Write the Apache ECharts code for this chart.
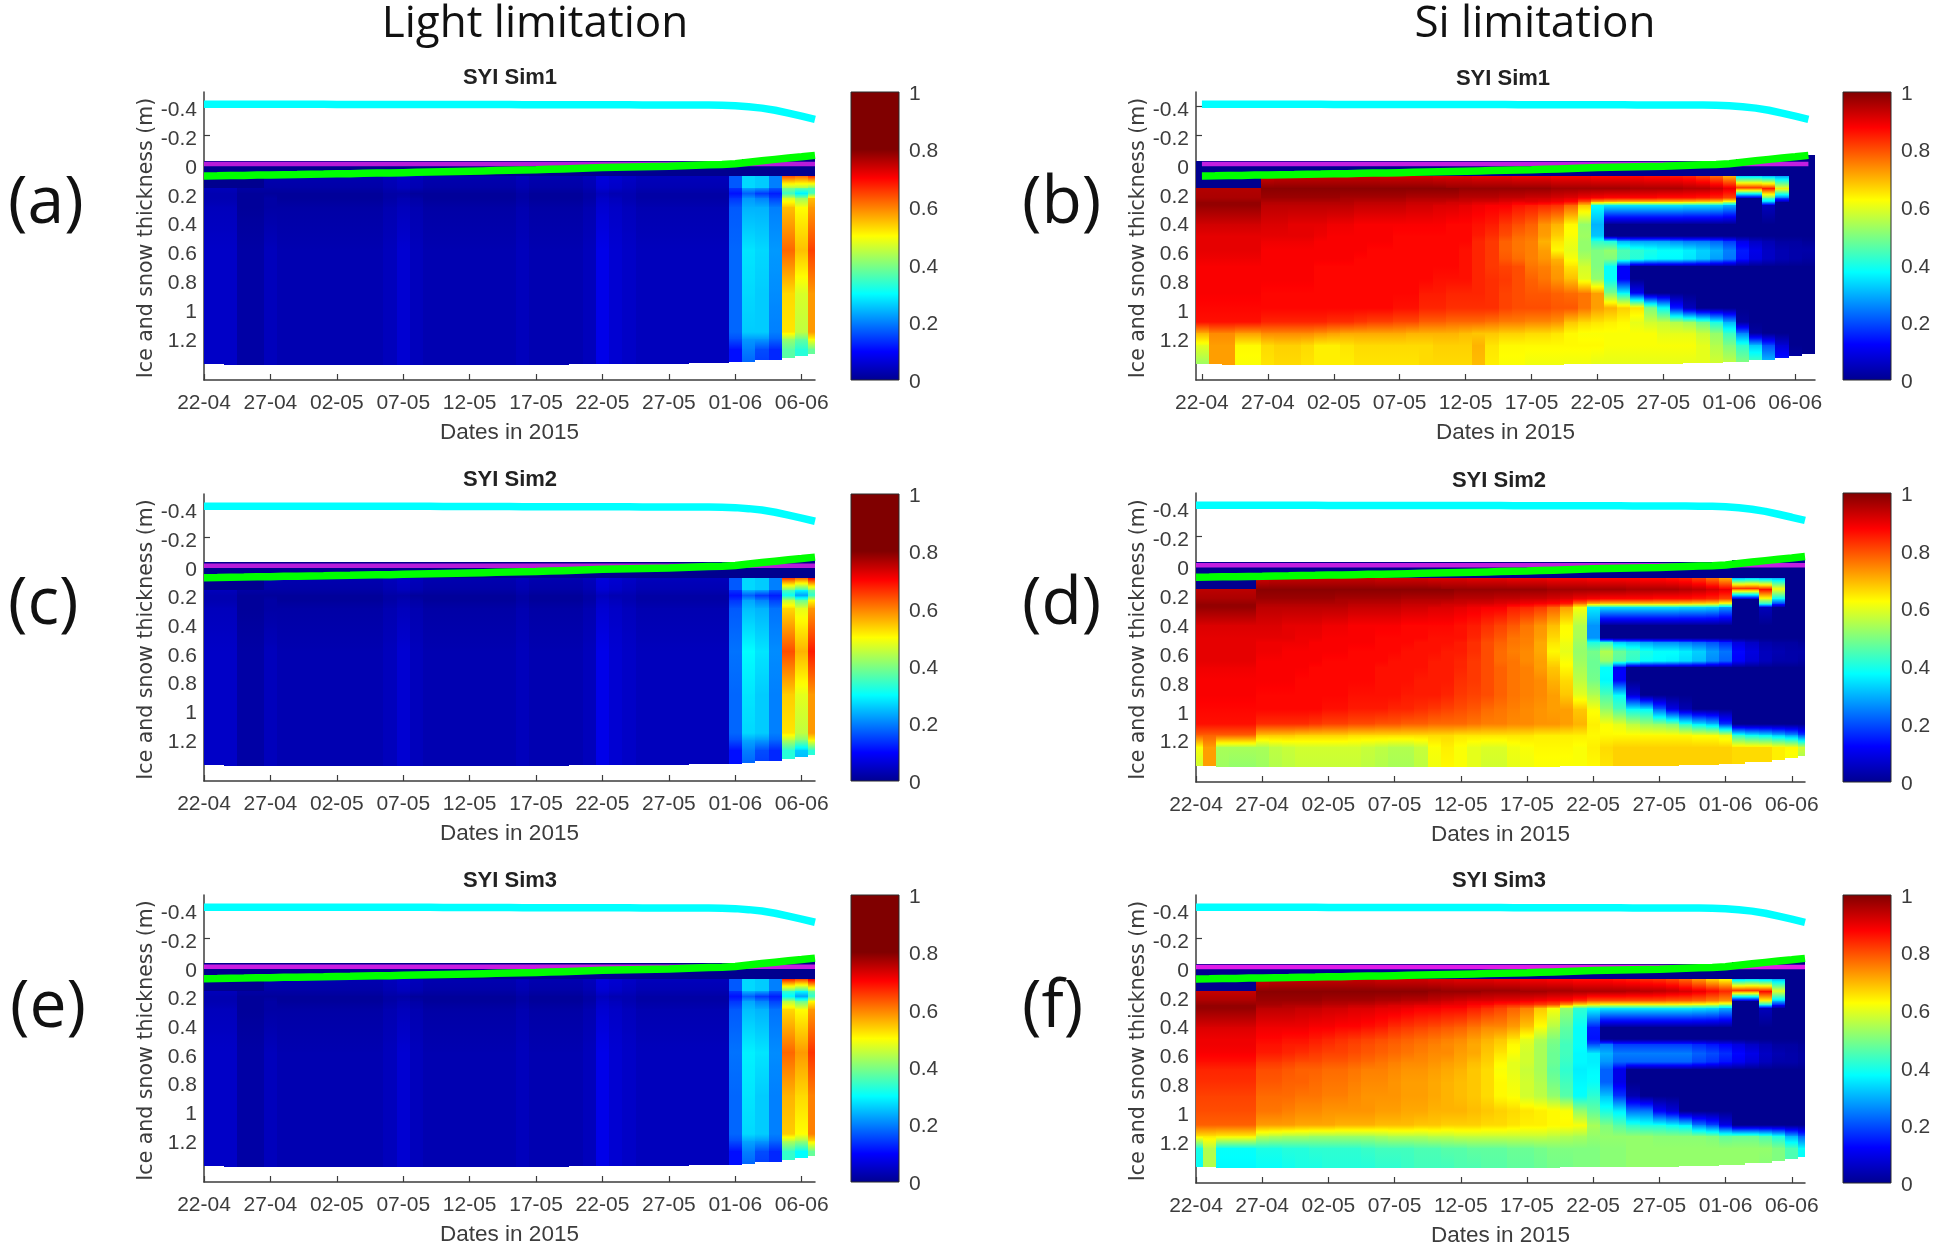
<!DOCTYPE html>
<html><head><meta charset="utf-8">
<style>html,body{margin:0;padding:0;background:#fff}#c{width:1936px;height:1248px;filter:blur(.55px)}</style>
<script src="https://cdn.jsdelivr.net/npm/echarts@6/dist/echarts.min.js"></script>
</head><body><div id="c"></div>
<script>
// ---------- shared axis content ----------
const dateTicks = [0,5,10,15,20,25,30,35,40,45];
const dateLabels = ['22-04','27-04','02-05','07-05','12-05','17-05','22-05','27-05','01-06','06-06'];
const depthTicks = [-0.4,-0.2,0,0.2,0.4,0.6,0.8,1,1.2];
const colorbarTicks = [0,0.2,0.4,0.6,0.8,1];
const days = [0,1,2,3,4,5,6,7,8,9,10,11,12,13,14,15,16,17,18,19,20,21,22,23,24,25,26,27,28,29,30,31,32,33,34,35,36,37,38,39,40,41,42,43,44,45,46];
// ---------- surface lines (m) ----------
const snowTop = [-.415,-.415,-.415,-.415,-.415,-.415,-.415,-.415,-.415,-.415,-.414,-.414,-.414,-.414,-.414,-.414,-.414,-.414,-.413,-.413,-.413,-.413,-.413,-.413,-.412,-.412,-.412,-.412,-.412,-.411,-.411,-.411,-.411,-.41,-.41,-.41,-.41,-.41,-.409,-.408,-.405,-.398,-.388,-.373,-.353,-.332,-.31];
const iceTopLine = [.083,.082,.08,.079,.077,.076,.074,.073,.071,.07,.068,.067,.065,.063,.062,.06,.058,.056,.054,.052,.05,.048,.046,.044,.042,.04,.037,.034,.031,.028,.025,.023,.021,.019,.017,.015,.012,.009,.006,.003,-.002,-.012,-.022,-.032,-.042,-.05,-.06];
const seaLevel = [0,0,0,0,0,0,0,0,0,0,0,0,0,0,0,0,0,0,0,0,0,0,0,0,0,0,0,0,0,0,0,0,0,0,0,0,0,0,0,0,0,0,0,0,0,0,0];
const fieldTop = [-.02,-.02,-.02,-.02,-.02,-.02,-.02,-.02,-.02,-.02,-.02,-.02,-.02,-.02,-.02,-.02,-.02,-.02,-.02,-.02,-.02,-.02,-.02,-.02,-.02,-.02,-.02,-.02,-.02,-.02,-.02,-.02,-.02,-.02,-.02,-.02,-.02,-.02,-.02,-.02,-.02,-.03,-.035,-.04,-.05,-.055,-.06];
const fieldBottom = [1.385,1.385,1.39,1.395,1.395,1.39,1.39,1.39,1.39,1.39,1.39,1.39,1.39,1.39,1.39,1.39,1.395,1.395,1.395,1.395,1.39,1.39,1.39,1.39,1.39,1.39,1.39,1.39,1.385,1.385,1.385,1.385,1.385,1.385,1.385,1.385,1.385,1.38,1.38,1.38,1.375,1.37,1.36,1.355,1.345,1.33,1.315];
// ---------- Si limitation, percent, rows by depth (m) ----------
const siKnots = [.089,.09,.17,.171,.24,.27,.29,.42,.505,.535,.60,.665,.71,.80,.90,1.0,1.10,1.18,1.26,1.37];
const surfaceRow = [0,0,0,0,0, 0,0,0,0,0, 0,0,0,0,0, 0,0,0,0,0, 0,0,0,0,0, 0,0,0,0,0, 0,0,0,0,0, 0,0,0,0,0, 0,0,0,0,0, 0,0];
const siSim1 = [
surfaceRow,
[0,0,0,0,0, 92,93,93,93,93, 93,93,93,93,92, 92,92,92,91,91, 91,90,90,90,89, 89,89,88,88,88, 87,87,87,87,86, 86,85,84,81,77, 70,33,33,30,28, 0,0],
[0,0,0,0,0, 99,99,99,99,99, 99,99,99,99,99, 99,99,99,99,98, 98,98,98,98,98, 98,98,97,97,97, 97,97,97,96,96, 96,96,95,95,93, 90,87,87,86,62, 0,0],
[95,95,95,95,95, 99,99,99,99,99, 99,99,99,99,99, 99,99,99,99,99, 98,98,98,98,98, 98,98,97,97,97, 97,97,97,96,96, 96,96,95,95,93, 90,80,80,87,65, 0,0],
[96,96,96,96,96, 97,97,97,97,97, 97,96,96,96,96, 96,95,95,95,95, 94,94,94,93,93, 92,92,91,90,88, 87,86,86,86,86, 85,85,85,84,83, 80,0,0,45,20, 0,0],
[98,98,98,98,98, 95,95,95,95,95, 95,95,94,94,94, 94,93,93,93,92, 92,91,91,90,89, 90,89,88,86,78, 68,66,65,65,65, 65,65,64,63,62, 55,0,0,30,0, 0,0],
[98,98,98,98,98, 94,94,94,94,94, 94,94,93,93,93, 93,92,92,91,91, 90,89,88,88,86, 85,84,83,78,68, 38,36,36,36,36, 36,36,35,35,34, 30,0,0,5,0, 0,0],
[92,92,92,92,92, 91,91,90,90,90, 89,89,88,88,88, 88,88,88,88,87, 87,86,85,82,80, 78,73,70,63,52, 30,0,0,0,0, 0,0,0,0,0, 0,0,0,0,0, 0,0],
[90,90,90,90,90, 90,90,90,90,89, 88,88,88,88,88, 87,87,87,87,87, 87,85,83,80,77, 76,72,67,62,53, 32,0,0,0,0, 0,0,0,0,0, 0,0,0,0,0, 0,0],
[90,90,90,90,90, 89,89,89,89,88, 88,88,88,88,88, 87,87,87,87,87, 87,84,82,78,76, 75,70,65,61,52, 42,40,30,28,28, 28,26,24,24,22, 18,10,6,4,2, 2,1],
[90,90,90,90,90, 88,88,88,88,88, 88,88,88,87,87, 87,87,87,87,87, 86,84,82,78,76, 75,72,63,60,52, 50,52,45,42,40, 38,38,36,33,30, 25,15,10,6,4, 3,3],
[89,89,89,89,89, 88,88,88,88,88, 88,88,87,87,87, 87,87,87,87,87, 86,84,82,79,77, 75,73,70,62,55, 50,50,44,41,38, 37,37,35,32,28, 24,14,9,6,4, 3,2],
[88,88,88,88,88, 88,88,88,88,87, 87,87,87,87,87, 87,87,87,87,87, 86,84,82,81,80, 76,75,72,65,58, 50,38,12,0,0, 0,0,0,0,0, 0,0,0,0,0, 0,0],
[88,88,88,88,88, 88,88,88,88,87, 87,87,87,87,87, 87,87,87,86,86, 86,84,83,82,80, 78,76,73,69,60, 52,38,12,0,0, 0,0,0,0,0, 0,0,0,0,0, 0,0],
[88,88,88,88,88, 87,87,87,87,87, 87,87,87,87,87, 87,87,85,85,84, 84,84,83,81,80, 79,79,78,77,76, 72,50,38,12,0, 0,0,0,0,0, 0,0,0,0,0, 0,0],
[87,87,87,87,87, 87,87,87,87,87, 87,87,87,87,87, 86,86,84,84,83, 83,83,83,81,80, 80,80,79,79,76, 72,70,67,65,50, 38,15,5,0,0, 0,0,0,0,0, 0,0],
[86,86,86,86,86, 84,84,84,84,84, 83,83,82,81,81, 80,80,78,78,77, 77,77,76,75,75, 74,74,73,68,66, 65,64,63,60,58, 57,55,53,48,40, 30,2,0,0,0, 0,0],
[70,74,74,72,72, 74,74,74,74,73, 72,71,71,71,71, 71,70,70,70,70, 69,68,68,67,67, 66,66,65,63,62, 62,62,62,62,62, 60,60,60,57,52, 43,25,2,0,0, 0,0],
[60,72,72,63,63, 66,67,67,66,64, 64,65,66,66,66, 66,66,66,67,67, 67,70,65,63,63, 63,63,63,63,63, 63,62,62,62,62, 62,62,62,60,55, 50,42,32,20,8, 0,0],
[53,72,72,62,62, 65,66,66,65,64, 64,64,65,65,65, 65,65,66,66,66, 66,69,64,62,62, 61,61,61,61,61, 60,60,60,60,60, 60,60,60,60,58, 56,50,43,30,14, 2,0]
];
const siSim2 = [
surfaceRow,
[0,0,0,0,0, 92,93,93,93,93, 93,93,93,93,92, 92,92,92,91,91, 91,90,90,90,89, 89,89,88,88,88, 87,87,87,87,86, 86,85,84,81,76, 70,30,32,30,30, 0,0],
[0,0,0,0,0, 99,99,99,99,99, 99,99,99,99,99, 99,99,99,99,98, 98,98,98,98,98, 98,98,97,97,97, 97,97,97,96,96, 96,96,95,94,92, 89,90,90,88,65, 0,0],
[94,94,94,94,94, 99,99,99,99,99, 99,99,99,99,99, 99,99,99,99,99, 98,98,98,98,98, 98,98,97,97,97, 97,97,97,96,96, 96,96,95,94,92, 90,78,78,88,62, 0,0],
[96,96,96,96,96, 97,97,97,97,97, 97,96,96,96,96, 96,95,95,95,95, 94,94,94,93,93, 92,92,91,90,88, 87,86,86,86,86, 85,85,85,84,83, 80,0,0,58,35, 0,0],
[98,98,98,98,98, 95,95,95,95,95, 95,95,94,94,94, 94,93,93,93,92, 92,91,91,90,89, 88,87,86,84,74, 66,64,64,64,64, 64,64,63,62,61, 55,0,0,38,15, 0,0],
[98,98,98,98,98, 94,94,94,94,94, 94,94,93,93,93, 93,92,92,91,91, 90,89,88,88,85, 84,82,78,72,62, 36,35,35,35,35, 35,35,34,34,33, 28,0,0,5,0, 0,0],
[91,91,91,91,91, 91,91,90,90,90, 89,89,88,88,88, 88,87,87,87,87, 86,85,83,81,79, 76,73,69,63,55, 27,0,0,0,0, 0,0,0,0,0, 0,0,0,0,0, 0,0],
[90,90,90,90,90, 90,90,90,89,89, 88,88,88,88,87, 87,87,87,86,86, 86,84,81,79,76, 75,72,66,62,54, 27,0,0,0,0, 0,0,0,0,0, 0,0,0,0,0, 0,0],
[90,90,90,90,90, 89,89,89,89,88, 88,88,88,88,87, 87,87,86,86,86, 85,83,80,78,76, 75,71,65,61,53, 40,42,32,30,28, 26,26,24,22,20, 16,9,6,3,2, 2,1],
[90,90,90,90,90, 89,89,88,88,88, 88,88,87,87,87, 87,86,86,86,85, 85,83,80,77,75, 74,71,63,60,52, 49,55,48,44,40, 38,38,36,33,28, 24,13,9,5,4, 3,3],
[90,90,90,90,90, 88,88,88,88,88, 87,87,87,87,87, 86,86,86,85,85, 84,82,80,77,76, 74,72,66,62,53, 48,52,46,42,38, 37,36,34,31,26, 22,12,8,5,3, 3,2],
[89,89,89,89,89, 88,88,88,88,87, 87,87,87,87,86, 86,86,86,85,85, 84,82,80,78,76, 75,72,68,63,54, 48,38,12,0,0, 0,0,0,0,0, 0,0,0,0,0, 0,0],
[88,88,88,88,88, 88,88,88,87,87, 87,87,87,87,86, 86,86,85,85,85, 83,82,80,78,76, 75,74,70,66,56, 49,37,12,0,0, 0,0,0,0,0, 0,0,0,0,0, 0,0],
[88,88,88,88,88, 87,87,87,87,87, 87,87,86,86,86, 86,85,85,85,84, 82,81,80,78,76, 75,74,72,68,60, 55,45,38,8,0, 0,0,0,0,0, 0,0,0,0,0, 0,0],
[87,87,87,87,87, 87,87,87,87,87, 86,86,85,85,85, 84,84,83,82,81, 80,79,77,76,75, 74,73,72,72,68, 62,52,45,38,37, 22,10,4,0,0, 0,0,0,0,0, 0,0],
[86,86,86,86,86, 83,83,83,83,82, 81,81,80,80,79, 79,78,78,77,77, 77,76,75,75,74, 74,73,73,72,70, 64,62,60,56,53, 52,50,42,36,32, 18,0,0,0,0, 0,0],
[78,78,78,78,78, 68,68,68,67,67, 67,67,66,66,66, 66,66,66,66,66, 65,65,65,65,65, 65,64,64,64,64, 63,63,63,63,63, 63,63,63,62,62, 60,42,38,36,32, 28,20],
[62,72,54,54,54, 54,56,57,58,58, 58,58,58,57,56, 55,55,57,62,64, 62,60,59,59,61, 62,63,63,63,62, 64,66,67,67,67, 67,67,67,67,67, 67,66,66,66,64, 63,58],
[58,72,53,52,52, 53,55,56,57,57, 57,57,57,56,55, 54,54,56,61,63, 62,60,58,58,60, 61,62,62,62,62, 63,65,67,67,67, 67,67,67,67,67, 67,66,66,66,64, 62,55]
];
const siSim3 = [
surfaceRow,
[0,0,0,0,0, 92,93,93,93,93, 93,93,93,93,92, 92,92,92,91,91, 90,90,90,89,89, 88,88,87,87,86, 86,86,85,84,83, 82,80,77,72,66, 62,32,34,32,30, 0,0],
[0,0,0,0,0, 99,99,99,99,99, 99,99,99,99,99, 99,99,99,99,98, 98,98,98,98,98, 97,97,97,97,96, 96,96,96,96,95, 95,94,92,90,88, 85,88,88,88,62, 0,0],
[93,93,93,93,93, 99,99,99,99,99, 99,99,99,99,99, 99,99,99,98,98, 98,98,97,97,97, 97,97,96,96,96, 96,96,96,95,95, 94,93,92,90,87, 84,78,78,88,60, 0,0],
[96,96,96,96,96, 97,97,97,97,97, 96,96,96,96,95, 95,94,94,93,92, 91,90,90,89,89, 88,87,86,85,82, 78,78,78,78,78, 78,77,77,76,74, 72,0,0,60,30, 0,0],
[98,98,98,98,98, 96,96,95,95,95, 94,94,93,93,92, 91,91,90,90,89, 89,87,86,84,83, 82,80,78,70,62, 60,58,58,58,58, 58,58,57,56,55, 50,0,0,35,12, 0,0],
[98,98,98,98,98, 94,94,94,93,93, 92,92,91,91,90, 90,89,88,88,87, 87,85,83,81,78, 75,68,62,52,42, 38,36,36,36,36, 36,36,36,35,34, 30,0,0,5,0, 0,0],
[91,91,91,91,91, 89,89,89,89,88, 88,87,87,86,85, 83,82,81,80,79, 78,76,74,74,72, 68,62,55,47,38, 15,0,0,0,0, 0,0,0,0,0, 0,0,0,0,0, 0,0],
[89,89,89,89,89, 87,87,86,86,85, 84,83,82,81,80, 79,78,77,76,75, 74,72,70,68,65, 60,55,50,45,38, 14,0,0,0,0, 0,0,0,0,0, 0,0,0,0,0, 0,0],
[89,89,89,89,89, 86,86,85,85,84, 83,82,81,80,79, 78,77,76,75,74, 73,71,69,67,63, 59,54,49,44,38, 20,24,18,18,18, 18,18,18,16,14, 12,9,6,4,2, 2,1],
[88,88,88,88,88, 85,85,84,83,82, 81,81,80,79,78, 77,76,75,74,74, 72,71,68,65,62, 58,54,48,44,37, 36,30,25,25,25, 25,25,25,22,20, 17,13,10,6,4, 3,2],
[86,86,86,86,86, 82,82,81,80,80, 79,79,78,77,76, 75,74,74,73,72, 71,69,67,63,60, 58,54,48,43,37, 36,27,22,22,22, 22,22,22,19,17, 14,11,8,5,3, 3,2],
[84,84,84,84,84, 80,80,79,78,78, 77,77,76,75,75, 74,73,73,72,71, 70,68,66,62,60, 57,54,47,42,36, 37,22,10,0,0, 0,0,0,0,0, 0,0,0,0,0, 0,0],
[83,83,83,83,83, 79,79,78,78,77, 76,76,75,74,74, 73,72,72,71,70, 69,68,66,63,61, 58,55,49,44,37, 38,22,10,0,0, 0,0,0,0,0, 0,0,0,0,0, 0,0],
[81,81,81,81,81, 77,77,77,76,76, 75,75,74,73,73, 73,72,72,71,70, 69,68,66,63,62, 58,56,52,46,38, 42,32,18,4,0, 0,0,0,0,0, 0,0,0,0,0, 0,0],
[80,80,80,80,80, 76,76,75,74,74, 73,73,73,73,72, 72,71,71,70,70, 70,69,68,67,66, 65,64,63,62,52, 47,40,36,24,24, 12,8,0,0,0, 0,0,0,0,0, 0,0],
[78,78,78,78,78, 72,72,72,71,71, 71,70,70,70,69, 69,69,68,68,67, 67,67,66,66,65, 64,64,63,63,62, 54,50,46,42,40, 40,38,36,25,20, 10,0,0,0,0, 0,0],
[65,65,64,64,64, 56,55,54,54,53, 53,53,53,53,54, 55,55,55,56,56, 57,57,57,57,57, 57,57,56,55,54, 52,52,52,52,52, 51,51,51,51,50, 47,48,48,45,40, 30,22],
[40,55,38,38,38, 40,40,41,41,42, 42,42,42,43,44, 44,44,45,45,46, 46,47,47,47,48, 48,49,50,50,50, 50,51,51,52,52, 52,52,52,52,52, 52,52,52,52,50, 45,38],
[38,55,37,37,37, 38,38,39,40,40, 41,41,41,41,42, 42,43,44,44,44, 45,45,46,46,47, 47,48,49,49,50, 50,51,51,52,52, 52,52,52,52,52, 52,52,52,51,50, 45,38]
];
// ---------- Light limitation, percent, rows by depth (m) ----------
const lightKnots = [.089,.09,.17,.171,.205,.24,.30,.60,.90,1.17,1.22,1.29,1.37];
const lightDeep = [5,5,5,2,2, 4,3,3,3,3, 3,3,3,3,4, 6,4,3,3,3, 3,3,3,3,4, 3,3,3,3,4, 8,6,5,4,4, 4,4,4,4,4];
const lightEarly = [
[0,0,0,0,0, 0,0,0,0,0, 0,0,0,0,0, 0,0,0,0,0, 0,0,0,0,0, 0,0,0,0,0, 0,0,0,0,0, 0,0,0,0,0],
[0,0,0,0,0, 3,3,3,3,3, 3,3,3,3,4, 5,4,3,3,3, 3,3,3,3,4, 3,3,3,3,4, 7,6,5,4,4, 4,4,4,4,4],
[0,0,0,0,0, 2,2,2,2,2, 2,2,2,2,3, 4,3,2,2,2, 2,2,2,2,3, 2,2,2,2,3, 6,5,4,3,3, 3,3,3,3,3],
[4,4,4,2,2, 2,2,2,2,2, 2,2,2,2,3, 4,3,2,2,2, 2,2,2,2,3, 2,2,2,2,3, 6,5,4,3,3, 3,3,3,3,3],
[3,3,3,1,1, 1,1,1,1,1, 1,1,1,1,2, 2,1,1,1,1, 1,1,1,1,2, 1,1,1,1,2, 4,3,3,2,2, 2,2,2,2,2],
[3,3,3,1,1, 2,1,1,1,1, 1,1,1,1,2, 3,2,1,1,1, 1,1,1,1,2, 1,1,1,1,2, 5,4,3,2,2, 2,2,2,2,2],
[4,4,4,1,1, 2,2,2,2,2, 2,2,2,2,3, 4,3,2,2,2, 2,2,2,2,3, 2,2,2,2,3, 6,5,4,3,3, 3,3,3,3,3],
lightDeep, lightDeep, lightDeep, lightDeep, lightDeep, lightDeep
];
const lightLateSim1 = [[0,0,0,0,0,0,0],[17,27,26,20,64,62,67],[17,27,26,20,42,42,38],[14,23,22,17,40,38,36],[11,17,14,12,34,28,35],[14,22,20,15,47,42,55],[17,24,24,20,55,50,58],[18,28,27,22,62,55,65],[18,27,26,21,53,47,58],[18,26,26,20,52,45,58],[16,22,22,18,42,38,50],[11,20,16,13,37,33,38],[11,18,15,13,37,33,38]];
const lightLateSim2 = [[0,0,0,0,0,0,0],[17,27,26,20,66,62,70],[17,27,26,20,38,33,40],[14,24,23,17,36,30,38],[11,17,14,12,30,22,33],[14,23,20,15,45,38,50],[17,25,24,19,53,48,58],[19,30,28,21,64,56,68],[18,28,26,20,54,48,58],[18,27,26,20,52,45,58],[16,23,22,18,44,40,50],[11,20,16,13,33,26,33],[11,18,15,13,33,25,33]];
const lightLateSim3 = [[0,0,0,0,0,0,0],[17,27,26,20,68,65,72],[17,27,26,20,36,32,40],[14,24,23,17,34,30,38],[11,17,14,12,29,22,33],[14,23,20,15,44,38,50],[17,25,24,19,53,50,58],[19,29,28,21,62,58,66],[18,28,26,20,56,53,60],[18,27,26,20,54,50,60],[16,23,22,18,44,42,52],[11,20,16,13,34,30,38],[11,18,15,13,34,30,38]];

// ---------- colours ----------
const jetPos = [0,.125,.375,.625,.875,1];
const jetRGB = [[0,0,143],[0,0,255],[0,255,255],[255,255,0],[255,0,0],[128,0,0]];
function jet(t){
  t = Math.max(0,Math.min(1,t));
  let i = 0; while(i<jetPos.length-2 && t>jetPos[i+1]) i++;
  const f = (t-jetPos[i])/(jetPos[i+1]-jetPos[i]);
  const c = jetRGB[i].map((a,j)=>Math.round(a+(jetRGB[i+1][j]-a)*f));
  return 'rgb('+c.join(',')+')';
}
function ramp(v0,v1,clim,n){
  const s=[]; for(let i=0;i<=n;i++){const q=i/n; s.push({offset:q,color:jet((v0+(v1-v0)*q)/clim)});}
  return s;
}
// ---------- layout ----------
const INK='#3c3c3c';
const panels = [
 {name:'SYI Sim1',rows:lightEarly.map((r,i)=>r.concat(lightLateSim1[i])),knots:lightKnots,clim:.8,L:204,R:815,T:92,B:380,min:0,max:46,titleX:505,titleY:74,barL:851,barW:48,purple:'#b71cd9'},
 {name:'SYI Sim1',rows:siSim1,knots:siKnots,clim:1,L:1196,R:1815,T:92,B:380,min:-.45,max:46.5,titleX:1498,titleY:75,barL:1843,barW:48,purple:'#c21fe0'},
 {name:'SYI Sim2',rows:lightEarly.map((r,i)=>r.concat(lightLateSim2[i])),knots:lightKnots,clim:.8,L:204,R:815,T:494,B:781,min:0,max:46,titleX:505,titleY:476,barL:851,barW:48,purple:'#b71cd9'},
 {name:'SYI Sim2',rows:siSim2,knots:siKnots,clim:1,L:1196,R:1805,T:493,B:782,min:0,max:46,titleX:1494,titleY:477,barL:1843,barW:48,purple:'#c21fe0'},
 {name:'SYI Sim3',rows:lightEarly.map((r,i)=>r.concat(lightLateSim3[i])),knots:lightKnots,clim:.8,L:204,R:815,T:895,B:1182,min:0,max:46,titleX:505,titleY:877,barL:851,barW:48,purple:'#c81ce0'},
 {name:'SYI Sim3',rows:siSim3,knots:siKnots,clim:1,L:1196,R:1805,T:895,B:1183,min:0,max:46,titleX:1494,titleY:877,barL:1843,barW:48,purple:'#e01ce6'}
];
const letters=[['(a)',3,204],['(b)',1017,204],['(c)',3,605],['(d)',1017,605],['(e)',5,1008],['(f)',1017,1008]];

function cells(p){
  const out=[];
  days.forEach((day,c)=>{
    const k=p.knots, r=p.rows;
    out.push([day,fieldTop[c],k[0],r[0][c],r[0][c]]);
    for(let i=0;i<k.length-1;i++){
      const d1 = i===k.length-2 ? fieldBottom[c] : k[i+1];
      out.push([day,k[i],d1,r[i][c],r[i+1][c]]);
    }
  });
  return out;
}
const grid=[],xAxis=[],yAxis=[],series=[],title=[];
title.push({text:'Light limitation',left:530,top:-3,textAlign:'center',textStyle:{fontFamily:'Open Sans',fontSize:44,fontWeight:400,color:'#111'}});
title.push({text:'Si limitation',left:1530,top:-3,textAlign:'center',textStyle:{fontFamily:'Open Sans',fontSize:44,fontWeight:400,color:'#111'}});
letters.forEach(l=>title.push({text:l[0],left:l[1],top:l[2]-38,textStyle:{fontFamily:'Open Sans',fontSize:66,fontWeight:400,color:'#111'}}));
panels.forEach((p,n)=>{
  const g=grid.length;
  title.push({text:p.name,left:p.titleX,top:p.titleY-12,textAlign:'center',textStyle:{fontFamily:'Liberation Sans',fontSize:22,fontWeight:700,color:'#222'}});
  grid.push({left:p.L,top:p.T,width:p.R-p.L,height:p.B-p.T});
  xAxis.push({gridIndex:g,type:'value',min:p.min,max:p.max,splitLine:{show:false},
    axisLine:{onZero:false,lineStyle:{color:INK,width:1.5}},
    axisTick:{inside:true,length:6,customValues:dateTicks,lineStyle:{color:INK,width:1.2}},
    axisLabel:{customValues:dateTicks,margin:13,color:INK,fontFamily:'Liberation Sans',fontSize:21,hideOverlap:false,
      formatter:v=>dateLabels[dateTicks.indexOf(v)]},
    name:'Dates in 2015',nameLocation:'middle',nameGap:41,nameTextStyle:{color:INK,fontFamily:'Liberation Sans',fontSize:22.5}});
  yAxis.push({gridIndex:g,type:'value',inverse:true,min:-.5,max:1.5,splitLine:{show:false},
    axisLine:{onZero:false,lineStyle:{color:INK,width:1.5}},
    axisTick:{inside:true,length:6,customValues:depthTicks,lineStyle:{color:INK,width:1.2}},
    axisLabel:{customValues:depthTicks,margin:7,color:INK,fontFamily:'Liberation Sans',fontSize:21,verticalAlign:'top',lineHeight:8,formatter:v=>String(v)},
    name:'Ice and snow thickness (m)',nameLocation:'middle',nameRotate:90,nameGap:46,
    nameTextStyle:{color:INK,fontFamily:'DejaVu Sans',fontSize:20.5,padding:[0,0,0,-4]}});
  series.push({type:'custom',coordinateSystem:'cartesian2d',xAxisIndex:g,yAxisIndex:g,clip:true,silent:true,z:2,
    encode:{x:0,y:[1,2]},data:cells(p),animation:false,
    renderItem:(params,api)=>{
      const day=api.value(0),a=api.coord([day-.5,api.value(1)]),b=api.coord([day+.5,api.value(2)]);
      const x0=Math.round(a[0]),x1=Math.round(b[0]),y0=Math.floor(a[1]),y1=Math.ceil(b[1]);
      return {type:'rect',shape:{x:x0,y:y0,width:x1-x0,height:y1-y0},
        style:{fill:new echarts.graphic.LinearGradient(0,0,0,1,ramp(api.value(3)/100,api.value(4)/100,p.clim,10))}};
    }});
  const line=(vals,color,width,z)=>({type:'line',xAxisIndex:g,yAxisIndex:g,showSymbol:false,symbol:'none',silent:true,animation:false,z,
    lineStyle:{color,width,cap:'butt'},data:days.map((d,i)=>[d,vals[i]])});
  series.push(line(seaLevel,p.purple,4.5,3));
  series.push(line(iceTopLine,'#00ff00',7.5,4));
  series.push(line(snowTop,'#00ffff',7.5,5));
  // colour bar
  const h=grid.length;
  grid.push({left:p.barL,top:p.T,width:p.barW,height:p.B-p.T});
  xAxis.push({gridIndex:h,type:'value',min:0,max:1,show:false});
  yAxis.push({gridIndex:h,type:'value',min:0,max:1,position:'right',splitLine:{show:false},
    axisLine:{show:false},axisTick:{show:false},
    axisLabel:{customValues:colorbarTicks,margin:10,color:INK,fontFamily:'Liberation Sans',fontSize:21,verticalAlign:'top',lineHeight:4,formatter:v=>String(v)}});
  series.push({type:'custom',coordinateSystem:'cartesian2d',xAxisIndex:h,yAxisIndex:h,silent:true,animation:false,
    encode:{x:0,y:1},data:[[0,1]],
    renderItem:(params,api)=>{
      const a=api.coord([0,1]),b=api.coord([1,0]);
      const stops=[];
      [1,.875,.625,.375,.125,0].forEach(j=>{stops.push({offset:1-j*p.clim,color:jet(j)});});
      if(p.clim<1) stops.unshift({offset:0,color:jet(1)});
      return {type:'rect',shape:{x:a[0],y:a[1],width:b[0]-a[0],height:b[1]-a[1]},
        style:{fill:new echarts.graphic.LinearGradient(0,0,0,1,stops),stroke:'#2a2a2a',lineWidth:1}};
    }});
});
const chart=echarts.init(document.getElementById('c'),null,{renderer:'canvas'});
chart.setOption({animation:false,backgroundColor:'#fff',title,grid,xAxis,yAxis,series,tooltip:{show:false}});
</script></body></html>
